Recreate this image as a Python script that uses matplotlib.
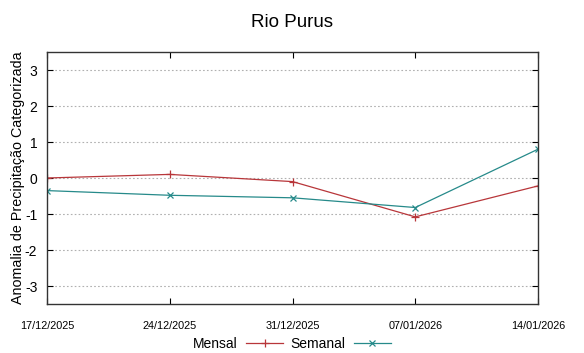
import matplotlib
matplotlib.use("Agg")
import matplotlib.pyplot as plt

plt.rcParams['font.family'] = ['Liberation Sans', 'DejaVu Sans']
plt.rcParams['axes.unicode_minus'] = False

# datas e anomalias
datas = ["17/12/2025", "24/12/2025", "31/12/2025", "07/01/2026", "14/01/2026"]
mensal = [0.0, 0.1, -0.1, -1.08, -0.22]
semanal = [-0.35, -0.48, -0.55, -0.82, 0.8]

x = list(range(len(datas)))

fig = plt.figure(figsize=(5.84, 3.53), dpi=100)
ax = fig.add_axes([47/584, 1 - 304/353, (538-47)/584, (304-52)/353])

ax.plot(x, mensal, color='#b8363a', lw=0.9, marker='+', ms=6, mew=0.9, label='Mensal')
ax.plot(x, semanal, color='#268a8a', lw=0.9, marker='x', ms=5, mew=0.9, label='Semanal')

ax.set_xlim(0, 4)
ax.set_ylim(-3.5, 3.5)
ax.set_yticks([-3, -2, -1, 0, 1, 2, 3])
ax.set_xticks(x)
ax.set_xticklabels(datas, fontsize=7.8)
ax.tick_params(axis='y', labelsize=10, direction='in', right=True, length=4, pad=7)
ax.tick_params(axis='x', direction='in', top=True, length=4, pad=12)
ax.grid(axis='y', color='#b0b0b0', linestyle=(0, (1.5, 2)), lw=0.8)
for s in ax.spines.values():
    s.set_linewidth(1.0)
    s.set_color('#333333')

ax.set_ylabel('Anomalia de Precipitação Categorizada', fontsize=10.3)
ax.yaxis.set_label_coords(-0.044, 0.5)
fig.suptitle('Rio Purus', fontsize=13.5, y=0.96)

fig.legend(loc='lower center', bbox_to_anchor=(0.5, -0.03), ncol=2, frameon=False,
           markerfirst=False, fontsize=10, handlelength=2.7, columnspacing=0.5,
           handletextpad=0.6)

fig.savefig('out.png', dpi=100)
